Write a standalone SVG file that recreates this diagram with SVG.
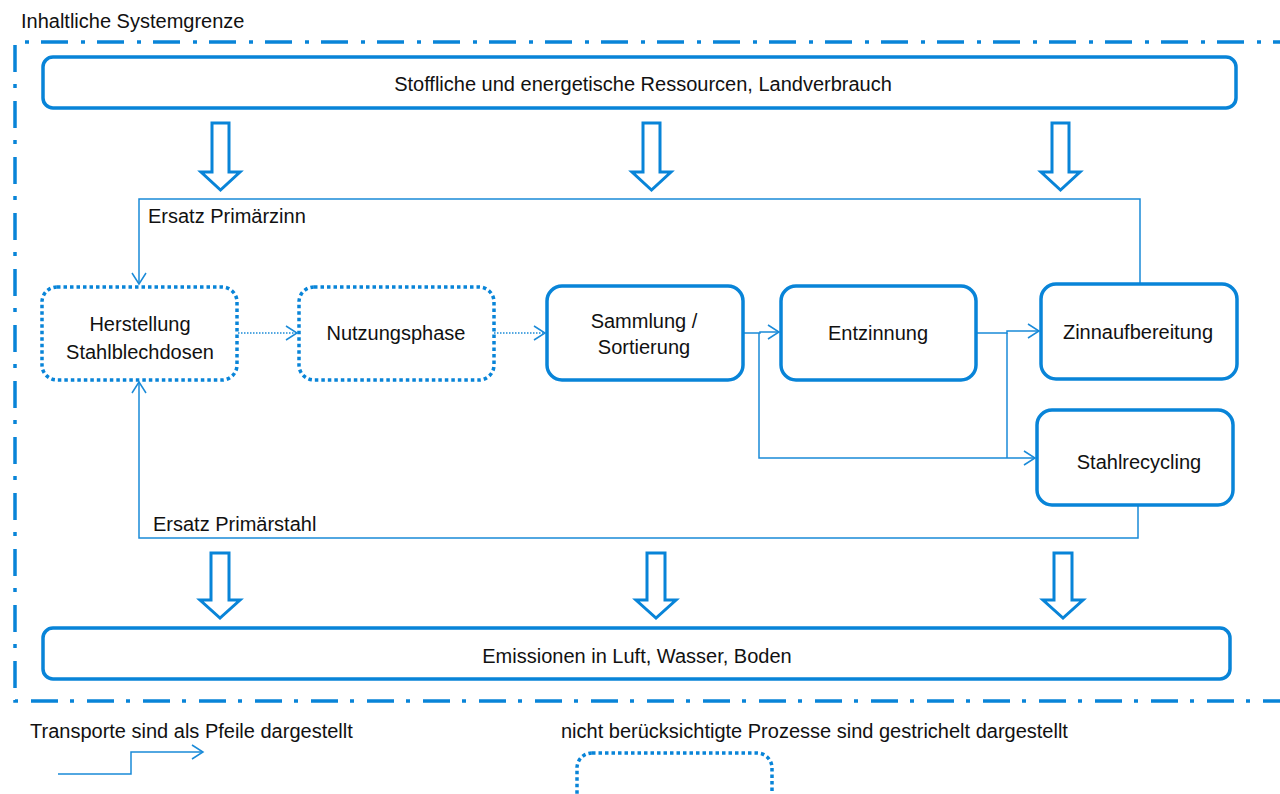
<svg xmlns="http://www.w3.org/2000/svg" width="1280" height="794" viewBox="0 0 1280 794">
<style>
text{font-family:"Liberation Sans",Arial,sans-serif;font-size:20px;fill:#111}
.c{text-anchor:middle}
.box{fill:#fff;stroke:#0884d8;stroke-width:3.5}
.dot{fill:#fff;stroke:#0884d8;stroke-width:3.5;stroke-dasharray:3.5 3}
.bar{fill:#fff;stroke:#0884d8;stroke-width:3}
.ln{fill:none;stroke:#1a8ad8;stroke-width:1.5}
.dl{fill:none;stroke:#1a8ad8;stroke-width:1.5;stroke-dasharray:1.5 1.5}
.bnd{fill:none;stroke:#0884d8;stroke-width:3.5;stroke-dasharray:27 12 4 13}
</style>
<defs>
<marker id="ah" markerUnits="userSpaceOnUse" markerWidth="14" markerHeight="16" refX="11" refY="7" orient="auto" overflow="visible">
<path d="M0,0 L11,7 L0,14" fill="none" stroke="#1a8ad8" stroke-width="1.5"/>
</marker>
</defs>
<rect width="1280" height="794" fill="#fff"/>

<g id="boundary">
<path class="bnd" d="M1300,42 H15 V701 H1300"/>
<text x="21" y="28">Inhaltliche Systemgrenze</text>
</g>

<g id="resources">
<rect class="box" x="43" y="57" width="1193" height="51" rx="10"/>
<text class="c" x="643" y="91">Stoffliche und energetische Ressourcen, Landverbrauch</text>
</g>

<g id="emissions">
<rect class="box" x="43" y="628" width="1187" height="51" rx="10"/>
<text class="c" x="637" y="663">Emissionen in Luft, Wasser, Boden</text>
</g>

<g id="block-arrows">
<path class="bar" d="M212,123 H229 V172 H240 L220.5,190 L201,172 H212 Z"/>
<path class="bar" d="M643,123 H660 V172 H671 L651.5,190 L632,172 H643 Z"/>
<path class="bar" d="M1052,123 H1069 V172 H1080 L1060.5,190 L1041,172 H1052 Z"/>
<path class="bar" d="M211,553 H229 V600 H240 L220,618 L200,600 H211 Z"/>
<path class="bar" d="M647,553 H665 V600 H676 L656,618 L636,600 H647 Z"/>
<path class="bar" d="M1054,553 H1072 V600 H1083 L1063,618 L1043,600 H1054 Z"/>
</g>

<g id="connectors">
<path class="ln" d="M1140,284 V199 H139 V284" marker-end="url(#ah)"/>
<path class="ln" d="M1138,505 V538 H139 V382" marker-end="url(#ah)"/>
<path class="dl" d="M238,333 H297" marker-end="url(#ah)"/>
<path class="dl" d="M494,333 H545" marker-end="url(#ah)"/>
<path class="ln" d="M743,333 H760 V332 H779" marker-end="url(#ah)"/>
<path class="ln" d="M759,333 V458 H1035" marker-end="url(#ah)"/>
<path class="ln" d="M976,333 H1007 V331 H1039" marker-end="url(#ah)"/>
<path class="ln" d="M1007,333 V458"/>
<text x="148" y="223">Ersatz Primärzinn</text>
<text x="153" y="531">Ersatz Primärstahl</text>
</g>

<g id="herstellung">
<rect class="dot" x="42" y="287" width="195" height="93" rx="15"/>
<text class="c" x="140" y="331">Herstellung</text>
<text class="c" x="140" y="359">Stahlblechdosen</text>
</g>

<g id="nutzungsphase">
<rect class="dot" x="299" y="287" width="195" height="93" rx="15"/>
<text class="c" x="396" y="340">Nutzungsphase</text>
</g>

<g id="sammlung">
<rect class="box" x="547" y="286" width="196" height="94" rx="15"/>
<text class="c" x="644" y="328">Sammlung /</text>
<text class="c" x="644" y="354">Sortierung</text>
</g>

<g id="entzinnung">
<rect class="box" x="781" y="286" width="195" height="94" rx="15"/>
<text class="c" x="878" y="340">Entzinnung</text>
</g>

<g id="zinnaufbereitung">
<rect class="box" x="1041" y="284" width="196" height="95" rx="15"/>
<text class="c" x="1138" y="339">Zinnaufbereitung</text>
</g>

<g id="stahlrecycling">
<rect class="box" x="1037" y="410" width="196" height="95" rx="15"/>
<text class="c" x="1139" y="469">Stahlrecycling</text>
</g>

<g id="legend">
<text x="30" y="738">Transporte sind als Pfeile dargestellt</text>
<path class="ln" d="M58,774 H131 V752 H203" marker-end="url(#ah)"/>
<text x="561" y="738">nicht berücksichtigte Prozesse sind gestrichelt dargestellt</text>
<rect class="dot" x="577" y="753" width="195" height="93" rx="15"/>
</g>
</svg>
